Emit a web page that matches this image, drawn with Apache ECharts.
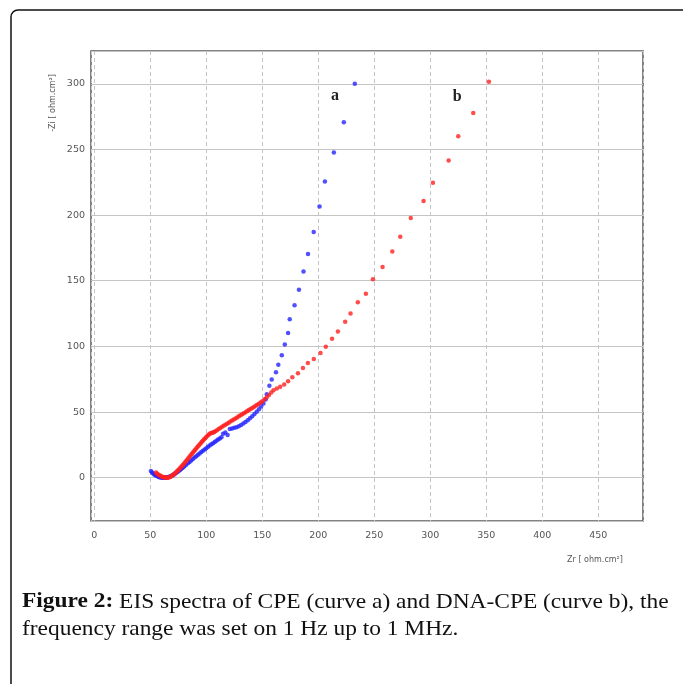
<!DOCTYPE html>
<html>
<head>
<meta charset="utf-8">
<script src="https://cdn.jsdelivr.net/npm/echarts@6/dist/echarts.min.js"></script>
<style>
  html, body { margin: 0; padding: 0; background: #fff; }
  #chart { width: 683px; height: 684px; }
</style>
</head>
<body>
<div id="chart"></div>
<script>
// Nyquist plot: real part Zr vs. imaginary part -Zi, both in ohm.cm²
const xTicks = [0, 50, 100, 150, 200, 250, 300, 350, 400, 450];
const yTicks = [0, 50, 100, 150, 200, 250, 300];

// curve a: bare carbon paste electrode (CPE)
const curveA = [
  [50.5, 5.0], [51.5, 4.0], [52.5, 3.2], [53.5, 2.5], [54.5, 1.9], [55.5, 1.4], [56.5, 1.0],
  [57.5, 0.6], [58.5, 0.3], [59.5, 0.1], [60.5, 0.0], [61.5, 0.0], [62.5, 0.0], [63.5, 0.1],
  [64.5, 0.2], [65.5, 0.4], [66.5, 0.6], [67.5, 0.9], [68.5, 1.3], [69.5, 1.7], [70.5, 2.2],
  [71.5, 2.7], [72.5, 3.3], [73.5, 3.9], [74.5, 4.5], [75.5, 5.2], [76.5, 5.9], [77.5, 6.6],
  [78.5, 7.3], [79.5, 8.0], [80.5, 8.8], [82, 9.8], [83.5, 10.9], [85, 12.0], [86.5, 13.1],
  [88, 14.2], [89.5, 15.3], [91, 16.4], [92.5, 17.4], [94, 18.5], [95.5, 19.5], [97, 20.5],
  [98.5, 21.5], [100, 22.5], [101.5, 23.5], [103, 24.5], [104.5, 25.4], [106, 26.3],
  [107.5, 27.2], [109, 28.1], [110.5, 29.0], [112, 29.9], [113.5, 30.7], [115, 33.5],
  [117, 34.5], [119, 32.5], [121, 37.0], [123, 37.5], [125, 38.0], [127, 38.5], [129, 39.2],
  [131, 40.2], [133, 41.3], [135, 42.5], [137, 43.8], [139, 45.3], [141, 46.8], [143, 48.5],
  [145, 50.3], [147, 52.2], [149, 54.2], [151, 56.5], [153, 59.5], [154, 63.5], [156.3, 70.1],
  [158.4, 74.7], [162.2, 80.3], [164.3, 86.1], [167.4, 93.3], [170.1, 101.5], [173, 110.2],
  [174.5, 120.7], [178.8, 131.3], [182.7, 143.2], [186.8, 157.1], [190.8, 170.4],
  [195.9, 187.1], [201.1, 206.6], [205.9, 225.6], [213.9, 247.7], [222.8, 270.8], [232.6, 300.0]
];

// curve b: DNA-modified carbon paste electrode (DNA-CPE)
const curveB = [
  [55, 4.0], [56, 3.2], [57, 2.5], [58, 1.9], [59, 1.4], [60, 0.9], [61, 0.6], [62, 0.3],
  [63, 0.1], [64, 0.0], [65, 0.0], [66, 0.1], [67, 0.4], [68, 0.8], [69, 1.3], [70, 1.9],
  [71, 2.6], [72, 3.4], [73, 4.2], [74, 5.0], [75, 5.9], [76, 6.8], [77, 7.7], [78, 8.7],
  [79, 9.7], [80, 10.7], [81, 11.7], [82, 12.7], [83, 13.8], [84, 14.8], [85, 15.9],
  [86, 17.0], [87, 18.0], [88, 19.1], [89, 20.2], [90, 21.2], [91, 22.3], [92, 23.3],
  [93, 24.3], [94, 25.3], [95, 26.3], [96, 27.3], [97, 28.2], [98, 29.2], [99, 30.1],
  [100, 31.0], [101, 31.9], [102, 32.7], [103, 33.4], [104, 33.9], [105, 34.2], [106, 34.4],
  [107, 34.8], [108, 35.4], [109.5, 36.2], [111, 37.0], [112.5, 37.9], [114, 38.7],
  [115.5, 39.5], [117, 40.3], [118.5, 41.1], [120, 41.9], [121.5, 42.7], [123, 43.5],
  [124.5, 44.3], [126, 45.1], [127.5, 45.9], [129, 46.7], [130.5, 47.5], [132, 48.3],
  [133.5, 49.1], [135, 49.9], [136.5, 50.7], [138, 51.5], [139.5, 52.3], [141, 53.1],
  [142.5, 53.9], [144, 54.7], [145.5, 55.5], [147, 56.4], [148.5, 57.3], [150, 58.3],
  [152, 59.8], [154, 61.3], [156, 62.9], [158, 64.8], [160, 66.5], [163, 68.0], [166, 69.2],
  [169.5, 71.0], [173, 73.4], [176.8, 76.4], [181.8, 79.5], [186.3, 83.5], [190.7, 87.3],
  [196, 90.4], [202, 95.0], [206.7, 99.8], [212.3, 105.8], [217.5, 111.4], [224, 118.7],
  [228.8, 125.0], [235.3, 133.7], [242.5, 140.1], [248.8, 151.1], [257.4, 160.5],
  [266.1, 172.2], [273.2, 183.6], [282.6, 197.8], [294, 210.8], [302.4, 224.6],
  [316.4, 241.6], [325, 260.0], [338.4, 277.8], [352.4, 301.6]
];

const curveNames = ['a', 'b'];
const captionBold = 'Figure 2:';
const captionLine1 = ' EIS spectra of CPE (curve a) and DNA-CPE (curve b), the';
const captionLine2 = 'frequency range was set on 1 Hz up to 1 MHz.';

const chart = echarts.init(document.getElementById('chart'), null, { renderer: 'canvas' });

const tickFont = { fontFamily: 'DejaVu Sans', fontSize: 9.5, color: '#555' };
const gridGray = '#c4c4c4';

function tag(name, coord) {
  return {
    symbol: 'circle', symbolSize: 0,
    data: [{ coord: coord, name: name }],
    label: {
      show: true, formatter: name, position: 'inside',
      fontFamily: 'Liberation Serif', fontWeight: 'bold', fontSize: 16, color: '#222'
    }
  };
}

// caption text is set in a Times-metric serif, widened to the book face's proportions
const captionStyle = { fontFamily: 'Liberation Serif', fontSize: 21, fill: '#111', verticalAlign: 'middle' };

chart.setOption({
  animation: false,
  backgroundColor: '#fff',
  grid: {
    left: 91, right: 40, top: 51, bottom: 163,
    show: true, borderColor: '#5a5a5a', borderWidth: 1.5
  },
  xAxis: {
    type: 'value', min: -3, max: 490, splitNumber: 10,
    axisLine: { show: false }, axisTick: { show: false },
    axisLabel: Object.assign({ showMinLabel: false, showMaxLabel: false, margin: 10,
      formatter: v => (xTicks.includes(v) ? String(v) : '') }, tickFont),
    splitLine: { show: true, lineStyle: { color: gridGray, type: [4, 3], width: 1 } }
  },
  yAxis: {
    type: 'value', min: -33, max: 325, splitNumber: 7,
    axisLine: { show: false }, axisTick: { show: false },
    axisLabel: Object.assign({ showMinLabel: false, showMaxLabel: false, margin: 6,
      formatter: v => (yTicks.includes(v) ? String(v) : '') }, tickFont),
    splitLine: { show: true, lineStyle: { color: gridGray, type: 'solid', width: 1.2 } }
  },
  series: [
    {
      name: curveNames[0], type: 'scatter', data: curveA,
      symbol: 'circle', symbolSize: 4.5,
      itemStyle: { color: '#2424ff' },
      markPoint: tag(curveNames[0], [215, 291])
    },
    {
      name: curveNames[1], type: 'scatter', data: curveB,
      symbol: 'circle', symbolSize: 4.5,
      itemStyle: { color: '#ff2020' },
      markPoint: tag(curveNames[1], [324, 290])
    }
  ],
  graphic: [
    {
      type: 'rect', shape: { x: 11, y: 10, width: 720, height: 720, r: 7 },
      style: { fill: null, stroke: '#111', lineWidth: 1.5 }, z: -1
    },
    {
      type: 'text', x: 53, y: 103, rotation: Math.PI / 2,
      style: { text: '-Zi [ ohm.cm²]', fontFamily: 'DejaVu Sans', fontSize: 8,
        fill: '#555', align: 'center', verticalAlign: 'middle' }
    },
    {
      type: 'text', x: 595, y: 560,
      style: { text: 'Zr [ ohm.cm²]', fontFamily: 'DejaVu Sans', fontSize: 8,
        fill: '#555', align: 'center', verticalAlign: 'middle' }
    },
    {
      type: 'text', x: 22, y: 602, scaleX: 1.115,
      style: Object.assign({
        text: '{b|' + captionBold + '}' + captionLine1,
        rich: { b: { fontFamily: 'Liberation Serif', fontWeight: 'bold', fontSize: 21, fill: '#111' } }
      }, captionStyle)
    },
    {
      type: 'text', x: 22, y: 629, scaleX: 1.115,
      style: Object.assign({ text: captionLine2 }, captionStyle)
    }
  ]
});
</script>
</body>
</html>
